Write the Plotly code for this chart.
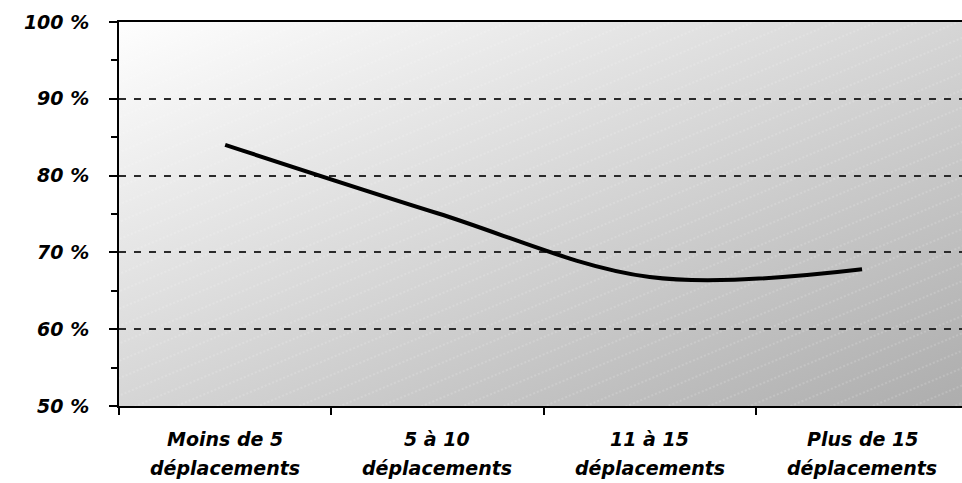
import base64
import plotly.graph_objects as go

# ---- data ----
categories = ["Moins de 5 déplacements", "5 à 10 déplacements",
              "11 à 15 déplacements", "Plus de 15 déplacements"]
label_line1 = ["Moins de 5", "5 à 10", "11 à 15", "Plus de 15"]
label_line2 = ["déplacements", "déplacements", "déplacements", "déplacements"]
values = [84.0, 75.1, 66.8, 67.8]
y_ticks = [50, 60, 70, 80, 90, 100]
y_tick_text = ["50 %", "60 %", "70 %", "80 %", "90 %", "100 %"]

W, H = 962, 483
ML, MR, MT, MB = 119, 0, 22, 77
PW, PH = W - ML - MR, H - MT - MB

# background: diagonal grey gradient with faint dotted white stripes
svg = f'''<svg xmlns="http://www.w3.org/2000/svg" width="{PW}" height="{PH}" viewBox="0 0 {PW} {PH}" preserveAspectRatio="none">
<defs>
<linearGradient id="g" x1="0" y1="0" x2="1" y2="1">
<stop offset="0" stop-color="#fefefe"/><stop offset="1" stop-color="#adadad"/></linearGradient>
<pattern id="p" width="40" height="16" patternUnits="userSpaceOnUse" patternTransform="rotate(-23)">
<line x1="0" y1="8" x2="40" y2="8" stroke="#ffffff" stroke-opacity="0.3" stroke-width="1" stroke-dasharray="2,2"/>
</pattern></defs>
<rect width="{PW}" height="{PH}" fill="url(#g)"/>
<rect width="{PW}" height="{PH}" fill="url(#p)"/>
</svg>'''
uri = "data:image/svg+xml;base64," + base64.b64encode(svg.encode()).decode()

font = dict(family="DejaVu Sans", size=19, color="black", weight="bold", style="italic")

fig = go.Figure()
fig.add_trace(go.Scatter(
    x=categories, y=values, mode="lines",
    line=dict(color="black", width=4, shape="spline", smoothing=1),
    hoverinfo="skip", showlegend=False,
))

annotations = []
for c, l1, l2 in zip(categories, label_line1, label_line2):
    annotations.append(dict(x=c, y=0, xref="x", yref="paper", text=l1, showarrow=False,
                            xanchor="center", yanchor="middle", yshift=-33, font=font))
    annotations.append(dict(x=c, y=0, xref="x", yref="paper", text=l2, showarrow=False,
                            xanchor="center", yanchor="middle", yshift=-62, font=font))

fig.update_layout(
    width=W, height=H,
    margin=dict(l=ML, r=MR, t=MT, b=MB, pad=0),
    paper_bgcolor="white", plot_bgcolor="white",
    showlegend=False,
    images=[dict(source=uri, xref="paper", yref="paper", x=0, y=1, sizex=1, sizey=1,
                 xanchor="left", yanchor="top", sizing="stretch", layer="below")],
    annotations=annotations,
    xaxis=dict(
        type="category", categoryorder="array", categoryarray=categories,
        range=[-0.5, -0.5 + PW / 212.3],
        showline=True, linecolor="black", linewidth=2, mirror=True,
        ticks="outside", ticklen=7, tickwidth=1.5, tickcolor="black",
        tickson="boundaries", showticklabels=False, showgrid=False, zeroline=False,
    ),
    yaxis=dict(
        range=[50, 100], tickmode="array", tickvals=y_ticks, ticktext=y_tick_text,
        showline=True, linecolor="black", linewidth=2,
        showgrid=True, gridcolor="#2a2a2a", gridwidth=1.5, griddash="7px,8px",
        ticks="outside", ticklen=8, tickwidth=1.5, tickcolor="black",
        minor=dict(dtick=5, ticks="outside", ticklen=6, tickwidth=1.5,
                   tickcolor="black", showgrid=False),
        tickfont=font, ticklabelstandoff=16, zeroline=False,
    ),
)

fig.write_html("out.html")
